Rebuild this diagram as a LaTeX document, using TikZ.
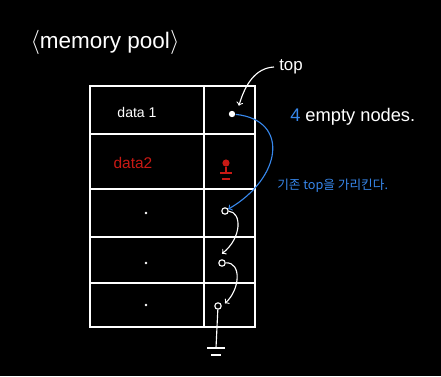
\documentclass[tikz,border=0pt]{standalone}
\usepackage{fontspec}
\setmainfont{Liberation Sans}
\newfontfamily\krfont{Noto Sans CJK KR}
\definecolor{penblue}{RGB}{55,135,235}
\definecolor{penred}{RGB}{200,25,20}
\begin{document}
\begin{tikzpicture}[x=0.025cm, y=-0.025cm, line width=0.8pt]
    \tikzset{
        link/.style={white, ->},
        ptr/.style={circle, draw=white, inner sep=1.6pt},
        label/.style={white, font=\fontsize{12}{14}\selectfont}
    }
    % Background
    \fill[black] (0,0) rectangle (441,376);

    % Title
    \node[label, font=\fontsize{16}{19}\selectfont] (title) at (105,42) {$\langle$memory pool$\rangle$};

    % Pool table
    \draw[white] (90,86) rectangle (255,327);
    \foreach \y in {134,189,237,283} {
        \draw[white] (90,\y) -- (255,\y);
    }
    \draw[white] (204,86) -- (204,327);

    % Data column
    \node[label, font=\fontsize{10}{12}\selectfont] (d1) at (137,112) {data 1};
    \node[label, text=penred, font=\fontsize{11}{13}\selectfont] (d2) at (133,163) {data2};
    \foreach \y in {213,263,305} {
        \fill[white] (146,\y) circle (0.9pt);
    }

    % Next pointers
    \node[circle, fill=white, inner sep=1.6pt] (p1) at (232,114) {};
    \node[circle, fill=penred, inner sep=1.8pt] (p2) at (226,163) {};
    \node[ptr] (p3) at (225,211) {};
    \node[ptr] (p4) at (222,263) {};
    \node[ptr] (p5) at (218,306) {};

    % Ground of data2
    \draw[penred] (p2) -- (226,173);
    \draw[penred] (220,173) -- (232,173);
    \draw[penred] (222,179) -- (230,179);

    % Free list
    \draw[link] (p3) .. controls (242,212) and (242,238) .. ([yshift=4pt]p4.north);
    \draw[link] (p4) .. controls (242,262) and (240,290) .. ([xshift=3pt]p5.north east);
    \coordinate (gnd) at (216,348);
    \draw[white] (p5) -- (gnd);
    \draw[white] (207,348) -- (225,348);
    \draw[white] (211,355) -- (221,355);

    % top
    \node[label] (top) at (291,67) {top};
    \draw[link] (top.west) .. controls (255,68) and (245,85) .. ([shift={(3pt,4pt)}]p1.north east);
    \node[label, anchor=west, font=\fontsize{13}{15}\selectfont] (empty) at (285,117) {\textcolor{penblue}{4} empty nodes.};

    % Old top
    \draw[penblue, ->] (p1) .. controls (290,120) and (282,178) .. (p3);
    \node[anchor=west, text=penblue, font=\krfont\fontsize{9}{11}\selectfont] (old) at (272,186) {기존 top을 가리킨다.};
\end{tikzpicture}
\end{document}
